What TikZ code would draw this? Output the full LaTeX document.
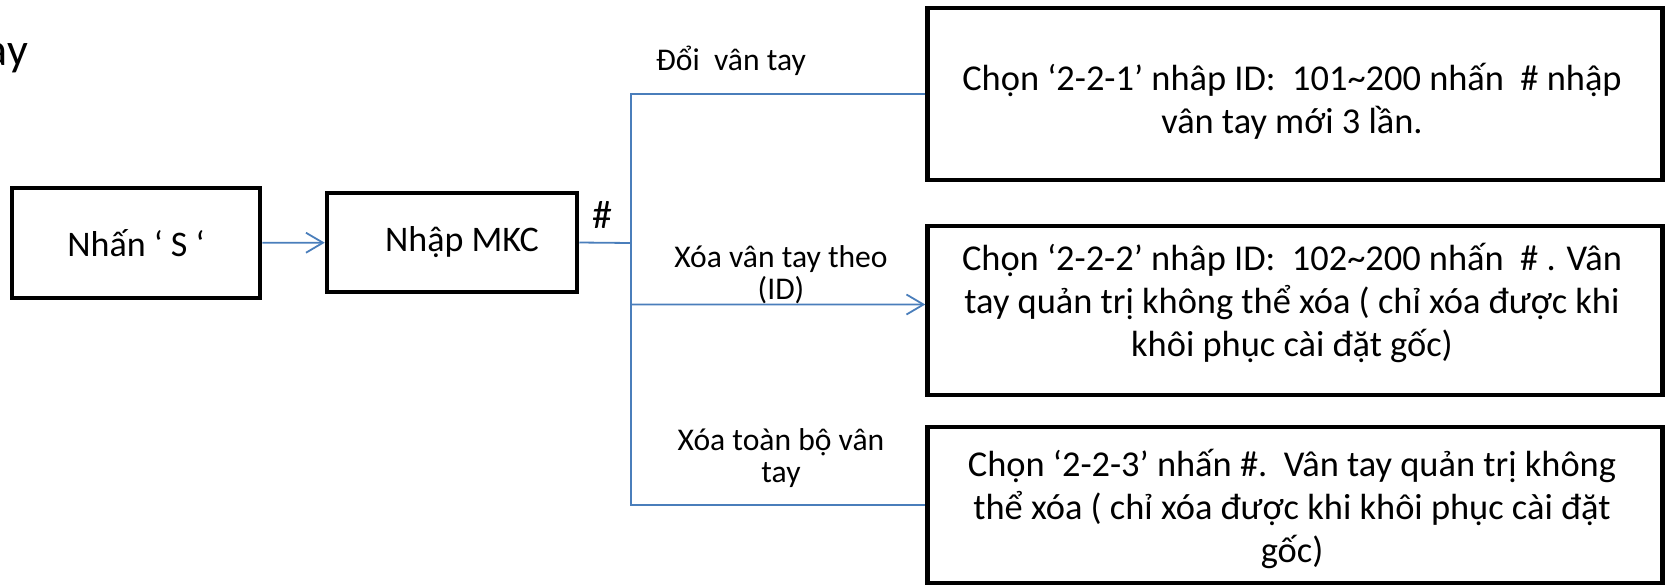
\documentclass[tikz,border=0pt]{standalone}
\usepackage{fontspec}
\setmainfont{Carlito}
\usetikzlibrary{arrows.meta}
\definecolor{linkblue}{RGB}{74,126,187}
\tikzset{
  box/.style={draw,line width=2.25pt,align=center,font=\fontsize{18}{22}\selectfont},
  boxtext/.style={align=center,font=\fontsize{18.2}{21.5}\selectfont},
  lbl/.style={align=center,font=\fontsize{15.8}{15.8}\selectfont},
  link/.style={linkblue,line width=0.9pt},
  tip/.style={-{Straight Barb[length=8.5pt,width=10pt,line width=0.9pt]}}
}

\begin{document}
\begin{tikzpicture}[x=0.5pt,y=-0.5pt]
  \useasboundingbox (0,0) rectangle (1666,585);

  \node[anchor=base east,font=\fontsize{23}{28}\selectfont] (head) at (35,65) {ay};

  \node[box,minimum width=124pt,minimum height=55pt] (press) at (136,243) {Nhấn ‘ S ‘};
  \node[box,minimum width=125pt,minimum height=49.5pt] (mkc) at (452,242.5) {\hspace{10pt}Nhập MKC};
  \node[font=\fontsize{20}{24}\selectfont] (hash) at (602,215) {\#};

  \node[box,minimum width=367.5pt,minimum height=86pt] (opt1) at (1295,94) {};
  \node[box,minimum width=367.5pt,minimum height=84.5pt] (opt2) at (1295,310.5) {};
  \node[box,minimum width=367.5pt,minimum height=78pt] (opt3) at (1295,505) {};

  \node[boxtext] (opt1txt) at (1292,101)
    {Chọn ‘2-2-1’ nhâp ID:\ \ 101\textasciitilde 200 nhấn\ \ \# nhập\\vân tay mới 3 lần.};
  \node[boxtext] (opt2txt) at (1292,303)
    {Chọn ‘2-2-2’ nhâp ID:\ \ 102\textasciitilde 200 nhấn\ \ \# . Vân\\tay quản trị không thể xóa ( chỉ xóa được khi\\khôi phục cài đặt gốc)};
  \node[boxtext] (opt3txt) at (1292,509)
    {Chọn ‘2-2-3’ nhấn \#.\ \ Vân tay quản trị không\\thể xóa ( chỉ xóa được khi khôi phục cài đặt\\gốc)};

  \node[lbl] (lbl1) at (731,61) {Đổi\ \ vân tay};
  \node[lbl] (lbl2) at (781,275) {Xóa vân tay theo\\(ID)};
  \node[lbl] (lbl3) at (781,458) {Xóa toàn bộ vân\\tay};

  \coordinate (split) at (631,243);

  \draw[link,tip] (press) -- (mkc);
  \draw[link,tip] (mkc.east) -- (split) |- ([yshift=3pt]opt2.west);
  \draw[link] (opt1.west) -| (split) |- (opt3.west);
\end{tikzpicture}
\end{document}
